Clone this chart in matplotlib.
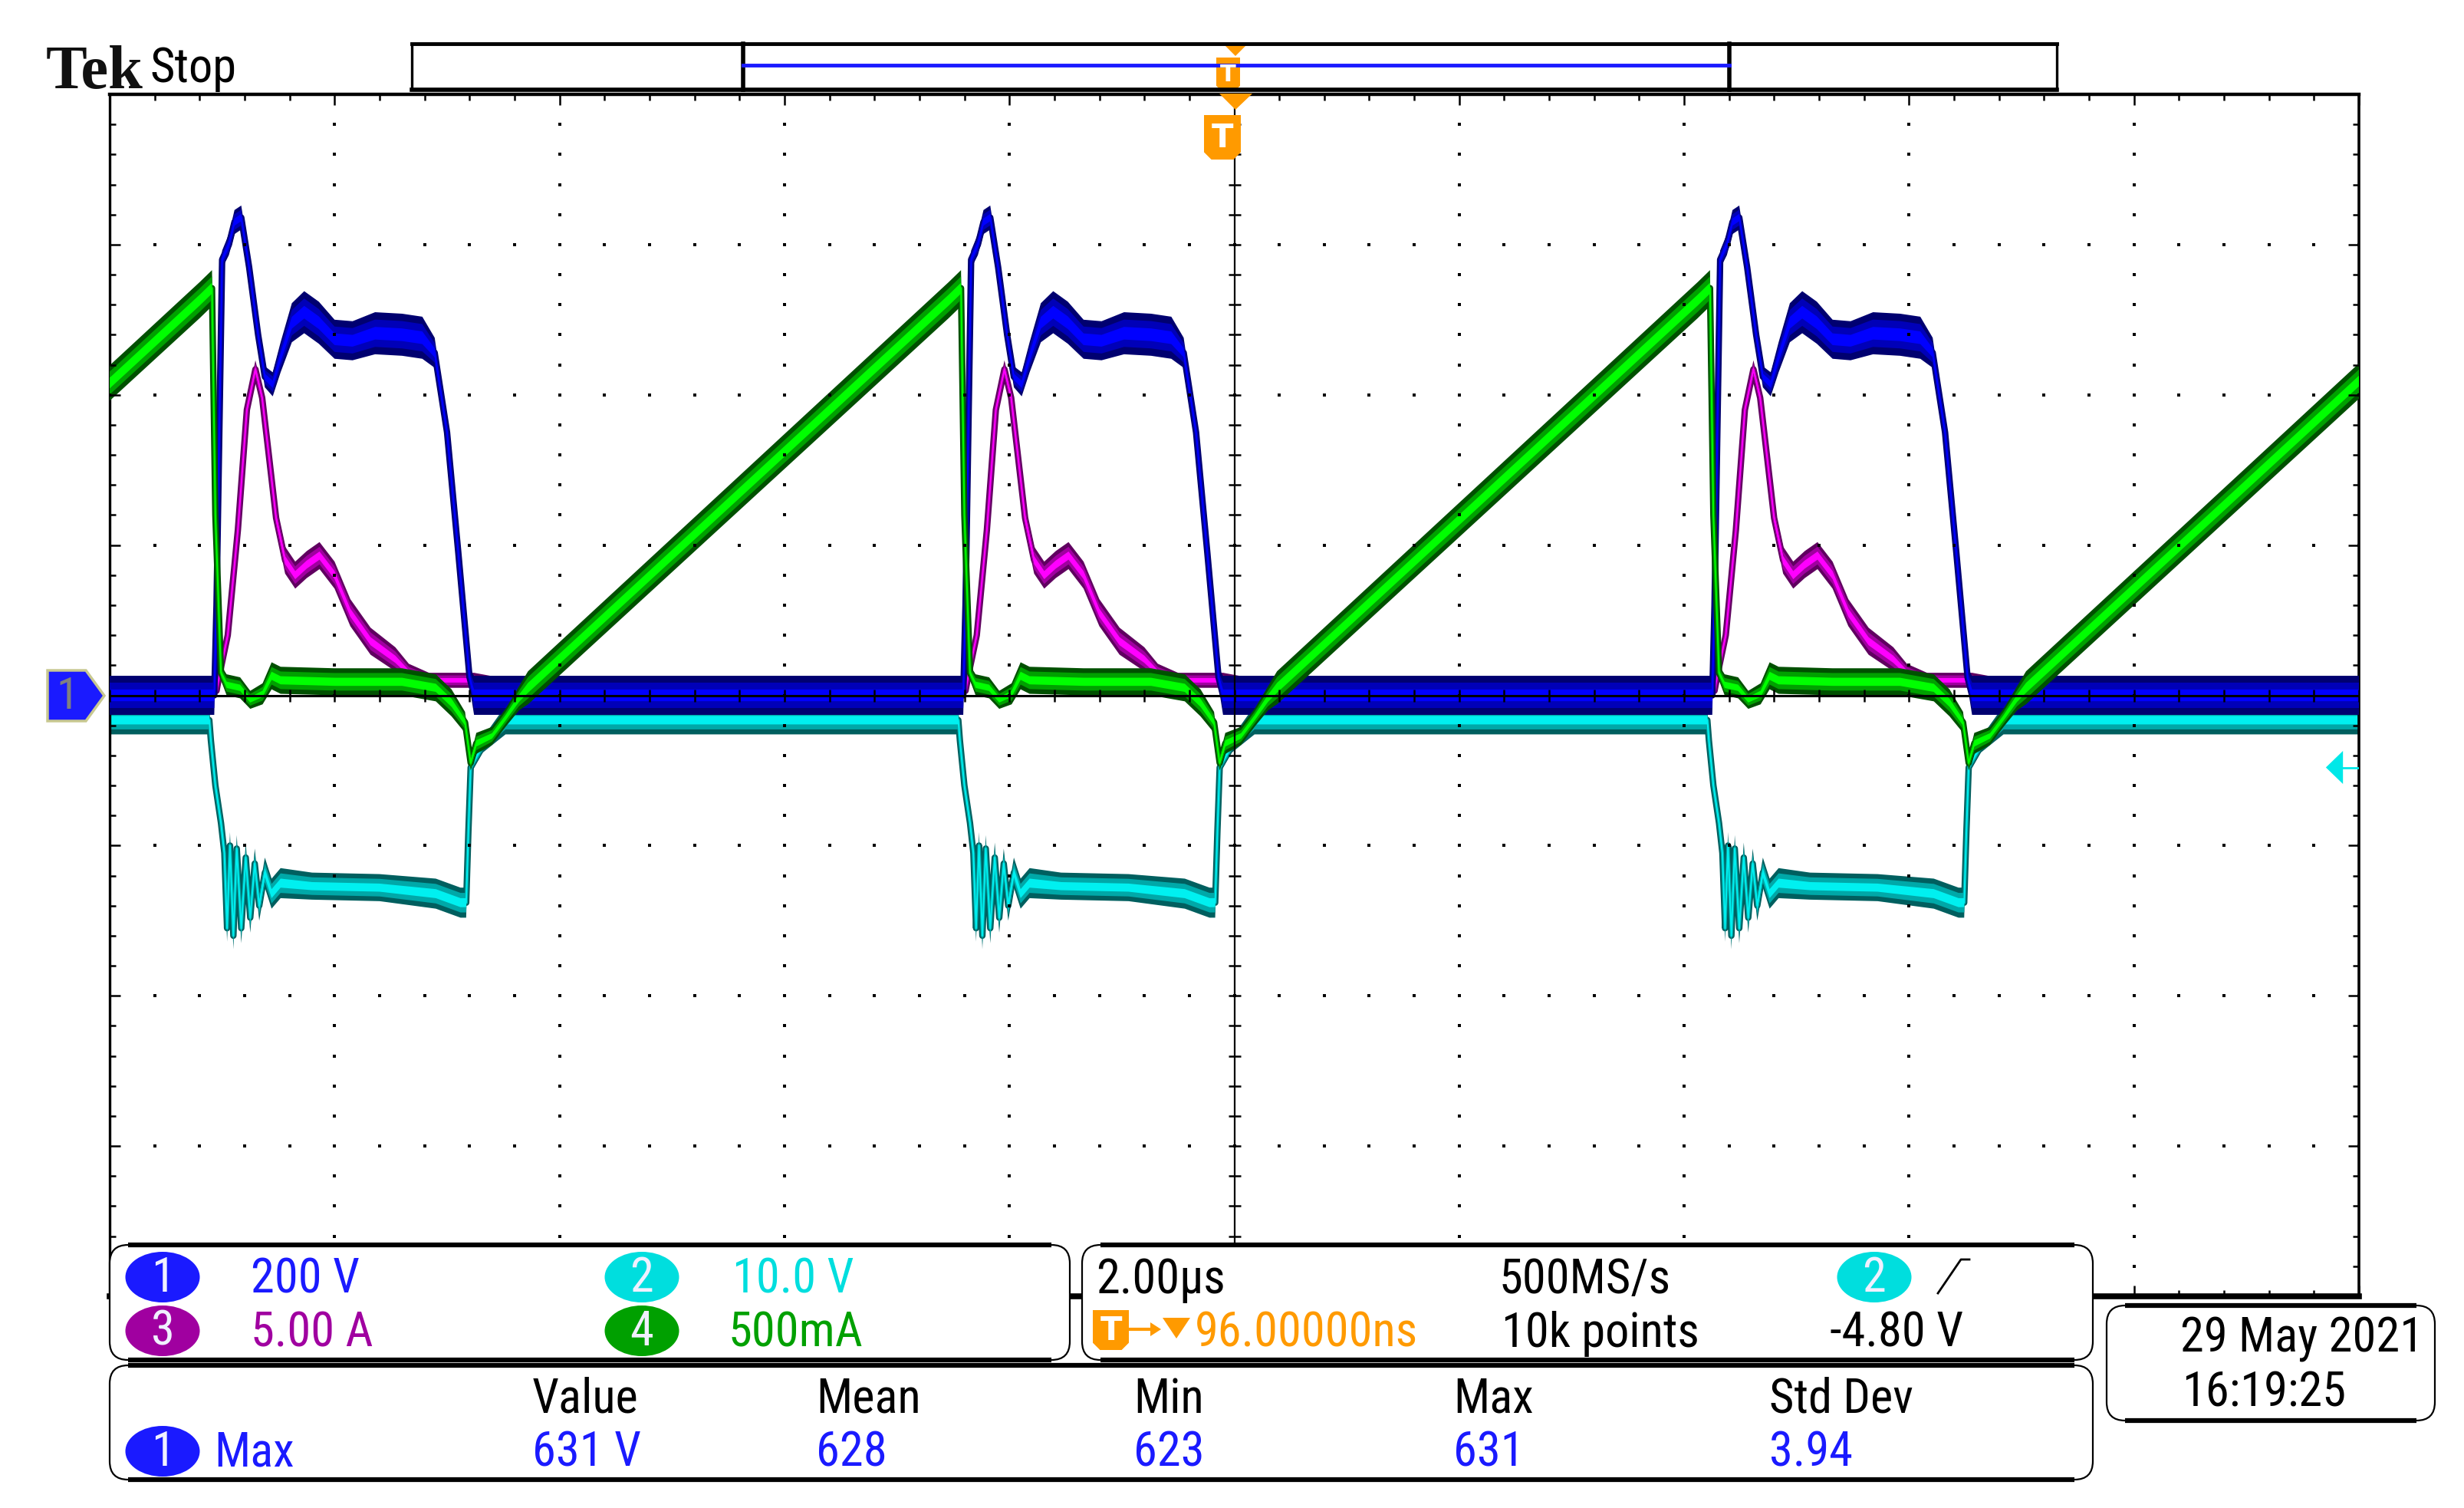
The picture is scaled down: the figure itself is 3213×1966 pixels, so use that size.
import numpy as np
import matplotlib
matplotlib.use("Agg")
import matplotlib.pyplot as plt
from matplotlib import font_manager
from matplotlib.patches import FancyBboxPatch, Ellipse, Polygon, Rectangle

W, H, DPI = 3213, 1966, 100

# ---- readout texts ----
ch_scales = ["200 V", "10.0 V", "5.00 A", "500mA"]
timebase = "2.00µs"
sample_rate = "500MS/s"
record_len = "10k points"
trig_level_txt = "-4.80 V"
trig_pos = "96.00000ns"
meas_head = ["Value", "Mean", "Min", "Max", "Std Dev"]
meas_vals = ["631 V", "628", "623", "631", "3.94"]
date_str = "29 May 2021"
time_str = "16:19:25"

# ---- waveforms, one switching period, in graticule divisions ----
period = 3.33
period_idx = [-1, 0, 1, 2]
trig_level = -0.48

# ch1 (200 V/div)
ch1_t = [0.40, 0.465, 0.475, 0.50, 0.53, 0.555, 0.585, 0.62, 0.66, 0.69, 0.725, 0.76,
         0.81, 0.865, 0.93, 1.00, 1.08, 1.18, 1.30, 1.39, 1.445, 1.50, 1.55, 1.60, 1.62, 3.73]
ch1_v = [0.0, 0.0, 0.60, 2.90, 3.00, 3.15, 3.18, 2.85, 2.40, 2.12, 2.07, 2.25,
         2.48, 2.55, 2.48, 2.37, 2.36, 2.41, 2.40, 2.38, 2.28, 1.75, 0.95, 0.12, 0.0, 0.0]
ch1_w = [0.13, 0.13, 0.04, 0.06, 0.07, 0.08, 0.08, 0.07, 0.07, 0.07, 0.08, 0.10,
         0.13, 0.14, 0.14, 0.13, 0.13, 0.14, 0.14, 0.14, 0.10, 0.06, 0.05, 0.06, 0.13, 0.13]

# ch2 (10 V/div)
ch2_t = [0.40, 0.443, 0.450, 0.470, 0.495, 0.510, 0.522, 0.535, 0.550, 0.565, 0.585, 0.605,
         0.625, 0.645, 0.665, 0.69, 0.72, 0.76, 0.90, 1.20, 1.45, 1.56, 1.585, 1.595, 1.605,
         1.66, 1.76, 3.73]
ch2_v = [-0.165, -0.165, -0.30, -0.60, -0.85, -1.05, -1.55, -1.00, -1.60, -1.02, -1.55, -1.08,
         -1.48, -1.12, -1.40, -1.18, -1.32, -1.25, -1.27, -1.28, -1.32, -1.38, -1.38, -0.90,
         -0.48, -0.33, -0.165, -0.165]
ch2_w = [0.095, 0.095, 0.05, 0.06, 0.07, 0.08, 0.09, 0.09, 0.09, 0.09, 0.10, 0.10,
         0.10, 0.10, 0.10, 0.10, 0.10, 0.10, 0.09, 0.09, 0.10, 0.10, 0.10, 0.04, 0.04, 0.05,
         0.095, 0.095]

# ch3 (5 A/div)
ch3_t = [0.40, 0.475, 0.49, 0.525, 0.57, 0.61, 0.648, 0.678, 0.706, 0.74, 0.78, 0.825,
         0.876, 0.933, 1.00, 1.07, 1.16, 1.27, 1.33, 1.42, 1.62, 1.80, 3.73]
ch3_v = [0.03, 0.03, 0.15, 0.40, 1.10, 1.90, 2.17, 1.98, 1.62, 1.18, 0.90, 0.80,
         0.87, 0.93, 0.80, 0.55, 0.36, 0.24, 0.15, 0.10, 0.10, 0.06, 0.03]
ch3_w = [0.04, 0.04, 0.04, 0.05, 0.05, 0.05, 0.06, 0.06, 0.07, 0.08, 0.09, 0.09,
         0.09, 0.09, 0.09, 0.09, 0.09, 0.08, 0.06, 0.05, 0.05, 0.04, 0.04]

# ch4 (500 mA/div)
ch4_t = [0.40, 0.455, 0.47, 0.495, 0.52, 0.58, 0.625, 0.68, 0.72, 0.76, 1.00, 1.30,
         1.45, 1.52, 1.58, 1.605, 1.63, 1.70, 1.76, 1.82, 1.86, 3.73]
ch4_v = [2.63, 2.71, 1.20, 0.15, 0.07, 0.05, -0.03, 0.01, 0.13, 0.10, 0.09, 0.09,
         0.05, -0.05, -0.18, -0.45, -0.32, -0.27, -0.15, -0.02, 0.05, 2.63]
ch4_w = [0.12, 0.12, 0.03, 0.05, 0.07, 0.07, 0.06, 0.07, 0.09, 0.09, 0.09, 0.09,
         0.09, 0.09, 0.07, 0.05, 0.07, 0.06, 0.06, 0.08, 0.11, 0.12]

BLUE = "#1a1aff"
CYAN = "#00dede"
PURPLE = "#a000a0"
GREEN = "#00a000"
ORANGE = "#ff9a00"

ch1_cols = ("#000070", "#0000b8", "#0000ff")
ch2_cols = ("#005f5f", "#00a8a8", "#00f0f0")
ch3_cols = ("#600060", "#a000a0", "#ff00ff")
ch4_cols = ("#005000", "#00a000", "#00ff00")

avail = {f.name for f in font_manager.fontManager.ttflist}
NARROW, FS = "Liberation Sans", 39
for cand in ["Liberation Sans Narrow", "Arial Narrow", "Roboto Condensed",
             "Open Sans Condensed", "Noto Sans Condensed", "DejaVu Sans Condensed"]:
    if cand in avail:
        NARROW, FS = cand, 45
        break
FAM = [NARROW, "DejaVu Sans"]


def tile(t, v, w):
    t, v, w = np.asarray(t), np.asarray(v), np.asarray(w)
    tt = np.concatenate([t + k * period for k in period_idx])
    vv = np.tile(v, len(period_idx))
    ww = np.tile(w, len(period_idx))
    return tt, vv, ww


def trace(ax, t, v, w, cols, z):
    tt, vv, ww = tile(t, v, w)
    dark, mid, bright = cols
    ax.fill_between(tt, vv - ww, vv + ww, color=dark, lw=0, zorder=z)
    ax.plot(tt, vv, color=dark, lw=6, zorder=z)
    ax.fill_between(tt, vv - 0.65 * ww, vv + 0.65 * ww, color=mid, lw=0, zorder=z)
    ax.plot(tt, vv, color=mid, lw=3, zorder=z)
    ax.fill_between(tt, vv - 0.3 * ww, vv + 0.3 * ww, color=bright, lw=0, zorder=z)
    ax.plot(tt, vv, color=bright, lw=1.4, zorder=z)


fig = plt.figure(figsize=(W / DPI, H / DPI), dpi=DPI)
fig.patch.set_facecolor("white")

X0, X1, Y0, Y1 = 143, 3076, 123, 1690
ax = fig.add_axes([X0 / W, 1 - Y1 / H, (X1 - X0) / W, (Y1 - Y0) / H])
ax.set_xlim(0, 10)
ax.set_ylim(-4, 4)
ax.set_facecolor("white")

# traces
trace(ax, ch2_t, ch2_v, ch2_w, ch2_cols, 2)
trace(ax, ch3_t, ch3_v, ch3_w, ch3_cols, 3)
trace(ax, ch1_t, ch1_v, ch1_w, ch1_cols, 4)
trace(ax, ch4_t, ch4_v, ch4_w, ch4_cols, 5)

# graticule (drawn over traces like on the scope)
fine_y = np.arange(-4, 4.001, 0.2)
fine_x = np.arange(0, 10.001, 0.2)
for gx in range(1, 10):
    if gx != 5:
        ax.plot(np.full_like(fine_y, gx), fine_y, ls="none", marker="s", ms=2.4,
                mew=0, color="k", zorder=10)
for gy in range(-3, 4):
    if gy != 0:
        ax.plot(fine_x, np.full_like(fine_x, gy), ls="none", marker="s", ms=2.4,
                mew=0, color="k", zorder=10)
ax.axhline(0, color="k", lw=2.2, zorder=10)
ax.axvline(5, color="k", lw=1.6, zorder=10)
ax.plot(fine_x, np.zeros_like(fine_x), ls="none", marker="|", ms=12, mew=1.8, color="k", zorder=10)
ax.plot(np.full_like(fine_y, 5), fine_y, ls="none", marker="_", ms=12, mew=1.8, color="k", zorder=10)

ax.set_xticks(np.arange(0, 10.01, 1))
ax.set_xticks(fine_x, minor=True)
ax.set_yticks(np.arange(-4, 4.01, 1))
ax.set_yticks(fine_y, minor=True)
ax.tick_params(which="both", direction="in", top=True, right=True, bottom=True, left=True,
               labelbottom=False, labelleft=False, color="k", width=1.8)
ax.tick_params(which="major", length=10)
ax.tick_params(which="minor", length=6)
ax.xaxis.set_zorder(20)
ax.yaxis.set_zorder(20)
ax.spines["left"].set_linewidth(2.4)
ax.spines["right"].set_linewidth(2.6)
ax.spines["top"].set_linewidth(3.2)
ax.spines["bottom"].set_linewidth(5.5)

# trigger level arrow (ch2) on right edge
ax.add_patch(Polygon([[9.853, trig_level], [9.929, trig_level + 0.11], [9.929, trig_level - 0.11]],
                     closed=True, fc="#00e8e8", ec="none", zorder=12, clip_on=False))
ax.plot([9.929, 10], [trig_level, trig_level], color="#00e8e8", lw=2, zorder=12)

# ---- overlay in pixel coordinates ----
ov = fig.add_axes([0, 0, 1, 1], zorder=30)
ov.set_xlim(0, W)
ov.set_ylim(H, 0)
ov.set_facecolor("none")
ov.axis("off")


def rbox(x0, y0, x1, y1, r=24):
    ov.add_patch(FancyBboxPatch((x0, y0), x1 - x0, y1 - y0,
                                boxstyle=f"round,pad=0,rounding_size={r}",
                                fc="white", ec="black", lw=1.6))
    ov.plot([x0 + r, x1 - r], [y0, y0], color="k", lw=4.5, solid_capstyle="butt")
    ov.plot([x0 + r, x1 - r], [y1, y1], color="k", lw=4.5, solid_capstyle="butt")


def badge(x, y, num, col, txtcol="#f0f0ff"):
    ov.add_patch(Ellipse((x, y), 97, 66, fc=col, ec="none"))
    ov.text(x, y + 2, num, color=txtcol, fontsize=FS, family=FAM,
            ha="center", va="center")


def t_icon(x0, y0, x1, y1, size):
    c = 0.2 * (x1 - x0)
    ov.add_patch(Polygon([[x0, y0], [x1, y0], [x1, y1 - c], [x1 - c, y1], [x0 + c, y1],
                          [x0, y1 - c]], closed=True, fc=ORANGE, ec="none"))
    ov.text((x0 + x1) / 2, (y0 + y1) / 2 + 1, "T", color="white", fontsize=size,
            fontweight="bold", family=["DejaVu Sans"], ha="center", va="center")


def txt(x, y, s, col="black", size=None, **kw):
    ov.text(x, y, s, color=col, fontsize=size or FS, family=FAM, ha="left", va="baseline", **kw)


# logo
ov.text(60, 115, "Tek", fontsize=58, family=["Liberation Serif", "DejaVu Serif"],
        fontweight="bold", color="#111111", ha="left", va="baseline")
txt(195, 107, "Stop", size=FS)

# record bar
ov.add_patch(Rectangle((537, 57), 2682 - 537, 60, fc="white", ec="black", lw=2.4))
ov.plot([537, 2682], [57, 57], color="k", lw=3.5)
ov.plot([537, 2682], [117, 117], color="k", lw=4)
ov.plot([969, 969], [57, 117], color="k", lw=4)
ov.plot([2255, 2255], [57, 117], color="k", lw=4)
ov.plot([969, 2255], [85, 85], color=BLUE, lw=3.5)
ov.add_patch(Polygon([[1597, 59], [1625, 59], [1611, 73]], closed=True, fc=ORANGE, ec="none"))
t_icon(1586, 75, 1617, 118, 22)

# trigger position marker
ov.add_patch(Polygon([[1590, 122], [1633, 122], [1611, 143]], closed=True, fc=ORANGE, ec="none"))
t_icon(1570, 150, 1618, 208, 30)

# ch1 ground marker
ov.add_patch(Polygon([[62, 874], [112, 874], [136, 907], [112, 940], [62, 940]], closed=True,
                     fc=BLUE, ec="#c8c890", lw=2.5))
ov.text(88, 909, "1", color="#808080", fontsize=42, family=FAM, ha="center", va="center")

# readout boxes
rbox(143, 1623, 1395, 1773)
rbox(1411, 1623, 2729, 1773)
rbox(143, 1780, 2729, 1929)
rbox(2747, 1702, 3175, 1852)

row1, row2 = 1686, 1756
badge(212, 1665, "1", BLUE)
txt(327, row1, ch_scales[0], BLUE)
badge(837, 1665, "2", CYAN)
txt(955, row1, ch_scales[1], CYAN)
badge(212, 1735, "3", PURPLE)
txt(327, row2, ch_scales[2], PURPLE)
badge(837, 1735, "4", GREEN)
txt(950, row2, ch_scales[3], GREEN)

txt(1429, row1, timebase)
txt(1955, row1, sample_rate)
badge(2444, 1665, "2", CYAN)
ov.plot([2527, 2557, 2568], [1686, 1642, 1642], color="k", lw=2)
t_icon(1425, 1708, 1472, 1760, 30)
# arrow and small triangle leading to the trigger position value
ov.plot([1474, 1504], [1733, 1733], color=ORANGE, lw=3)
ov.add_patch(Polygon([[1500, 1724], [1514, 1733], [1500, 1742]], closed=True, fc=ORANGE, ec="none"))
ov.add_patch(Polygon([[1516, 1718], [1552, 1718], [1534, 1745]], closed=True, fc=ORANGE, ec="none"))
txt(1558, row2, trig_pos, ORANGE)
txt(1958, row2, record_len)
txt(2386, row2, trig_level_txt)

head_x = [694, 1064, 1478, 1895, 2307]
for hx, h, v in zip(head_x, meas_head, meas_vals):
    txt(hx, 1842, h)
    txt(hx, 1912, v, BLUE)
badge(212, 1892, "1", BLUE)
txt(279, 1912, "Max", BLUE)

txt(2843, 1763, date_str)
txt(2845, 1833, time_str)

fig.savefig("out.png", dpi=DPI, facecolor="white")
